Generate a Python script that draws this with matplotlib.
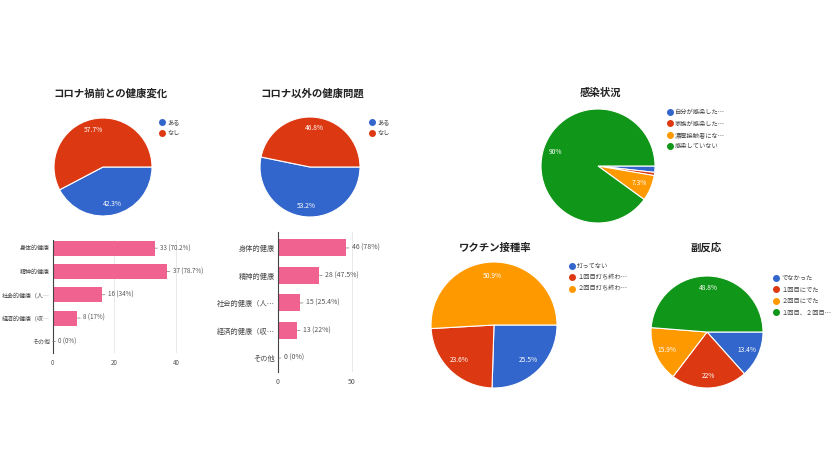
import matplotlib
matplotlib.use("Agg")
import matplotlib.pyplot as plt
from matplotlib.lines import Line2D

plt.rcParams["font.family"] = ["Noto Sans CJK JP", "DejaVu Sans"]

W, H = 840, 473

BLUE, RED, ORANGE, GREEN = "#3366cc", "#dc3912", "#ff9900", "#109618"
PINK = "#f0628f"

# --- data ---
change_labels = ["ある", "なし"]
change_pct = [42.3, 57.7]

other_labels = ["ある", "なし"]
other_pct = [53.2, 46.8]

infect_labels = ["自分が感染した…", "家族が感染した…", "濃厚接触者にな…", "感染していない"]
infect_pct = [1.8, 0.9, 7.3, 90.0]

vaccine_labels = ["打ってない", "１回目打ち終わ…", "２回目打ち終わ…"]
vaccine_pct = [25.5, 23.6, 50.9]

side_labels = ["でなかった", "１回目にでた", "２回目にでた", "１回目、２回目…"]
side_pct = [13.4, 22.0, 15.9, 48.8]

health_cats = ["身体的健康", "精神的健康", "社会的健康（人…", "経済的健康（収…", "その他"]
change_counts = [33, 37, 16, 8, 0]
change_share = ["70.2%", "78.7%", "34%", "17%", "0%"]
other_counts = [46, 28, 15, 13, 0]
other_share = ["78%", "47.5%", "25.4%", "22%", "0%"]


fig = plt.figure(figsize=(W / 100, H / 100), dpi=100)
fig.patch.set_facecolor("white")


def px_axes(left, top, width, height):
    return fig.add_axes([left / W, 1 - (top + height) / H, width / W, height / H])


def title_at(x, y, s):
    fig.text(x / W, 1 - y / H, s, ha="center", va="center",
             fontsize=7.5, fontweight="bold", color="#222")


def draw_pie(cx, cy, r, values, labels, colors, title_xy, title, legend_xy):
    ax = px_axes(cx - r, cy - r, 2 * r, 2 * r)
    ax.pie(
        values, colors=colors, startangle=0, counterclock=False,
        autopct=lambda p: f"{p:.1f}%".replace(".0%", "%") if p >= 5 else "",
        pctdistance=0.78, wedgeprops=dict(edgecolor="white", linewidth=0.8),
        textprops=dict(color="white", fontsize=4.8))
    ax.set_xlim(-1, 1)
    ax.set_ylim(-1, 1)
    title_at(*title_xy, title)
    handles = [Line2D([], [], marker="o", linestyle="", markersize=4,
                      markerfacecolor=c, markeredgecolor=c) for c in colors]
    lx, ly = legend_xy
    fig.legend(handles, labels, loc="upper left",
               bbox_to_anchor=((lx - 4) / W, 1 - (ly - 4) / H),
               frameon=False, fontsize=4.5, borderpad=0, borderaxespad=0,
               handlelength=0.8, handletextpad=0.5, labelspacing=0.55,
               labelcolor="#444")
    return ax


def draw_bars(left, top, ppu, xmax, height, ylim, counts, shares, ticks, bar_h,
              cat_size, val_size):
    ax = px_axes(left, top, ppu * xmax, height)
    pos = list(range(len(health_cats)))
    ax.barh(pos, counts, height=bar_h, color=PINK, zorder=2)
    for i, (v, s) in enumerate(zip(counts, shares)):
        ax.annotate(f"{v} ({s})", xy=(v, i), xytext=(4, 0), textcoords="offset points",
                    ha="left", va="center", fontsize=val_size, color="#555",
                    annotation_clip=False,
                    arrowprops=dict(arrowstyle="-", color="#777", lw=0.5,
                                    shrinkA=0, shrinkB=0))
    ax.set_xlim(0, xmax)
    ax.set_ylim(*ylim)
    ax.set_yticks(pos)
    ax.set_yticklabels(health_cats, fontsize=cat_size)
    ax.set_xticks(ticks)
    ax.tick_params(axis="x", length=0, labelsize=val_size, colors="#555", pad=4)
    ax.tick_params(axis="y", length=0, colors="#444", pad=2)
    ax.grid(axis="x", color="#e0e0e0", linewidth=0.5, zorder=0)
    for side in ["top", "right", "bottom"]:
        ax.spines[side].set_visible(False)
    ax.spines["left"].set_color("#444")
    ax.spines["left"].set_linewidth(0.8)
    ax.set_facecolor("none")
    return ax


draw_pie(103, 167, 49, change_pct, change_labels, [BLUE, RED],
         (111, 94), "コロナ禍前との健康変化", (163, 122))
draw_pie(310, 167, 50, other_pct, other_labels, [BLUE, RED],
         (312, 94), "コロナ以外の健康問題", (373, 122))
draw_pie(598, 166, 57, infect_pct, infect_labels, [BLUE, RED, ORANGE, GREEN],
         (601, 93), "感染状況", (671, 112))
draw_pie(494, 325, 63, vaccine_pct, vaccine_labels, [BLUE, RED, ORANGE],
         (495, 248), "ワクチン接種率", (573, 266))
draw_pie(707, 332, 56, side_pct, side_labels, [BLUE, RED, ORANGE, GREEN],
         (706, 248), "副反応", (777, 278))

draw_bars(52.7, 240, 3.09, 42, 113, (4.5, -0.35), change_counts, change_share,
          [0, 20, 40], 0.64, 4.3, 4.5)
draw_bars(278, 232, 1.48, 55, 140, (4.51, -0.58), other_counts, other_share,
          [0, 50], 0.62, 5.2, 5.0)

fig.savefig("out.png", dpi=100, facecolor="white")
